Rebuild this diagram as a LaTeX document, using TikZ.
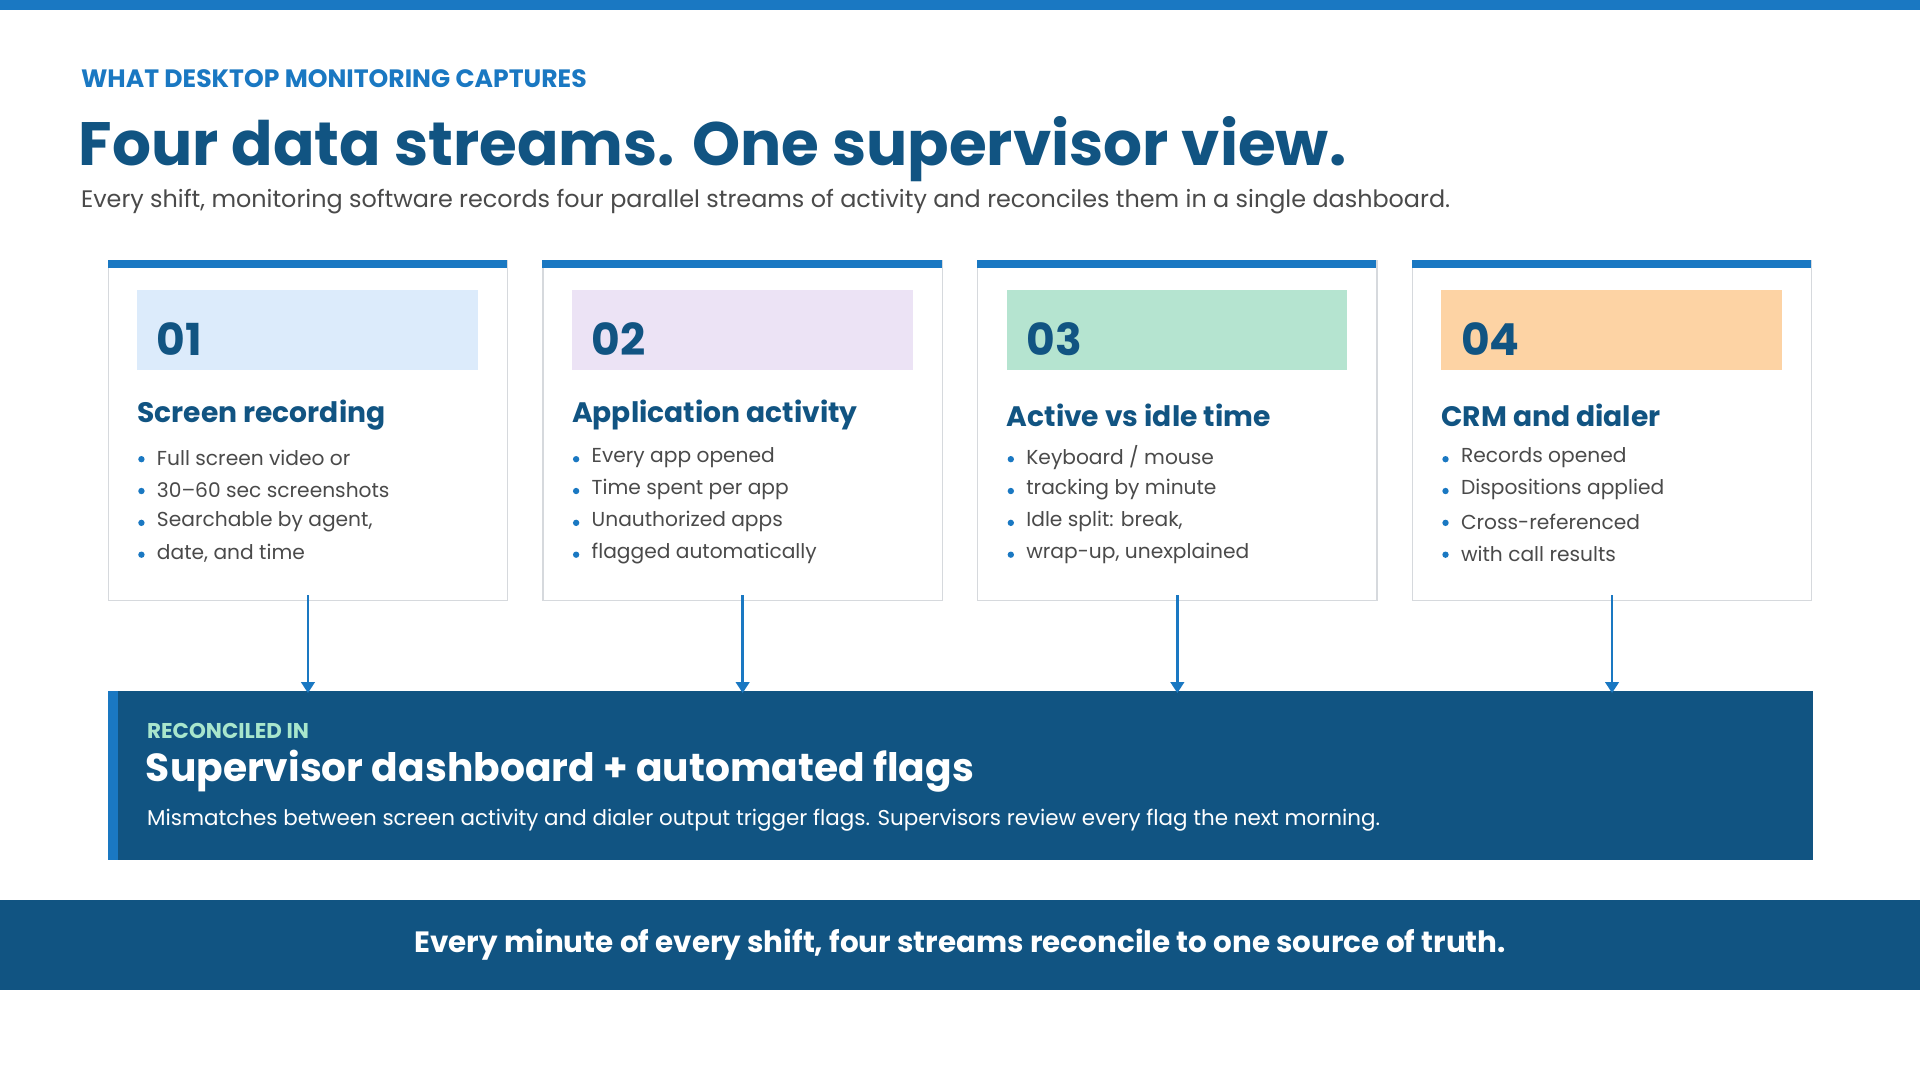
\documentclass[tikz,border=0pt]{standalone}
\usepackage{fontspec}
\setmainfont{Poppins}
\usetikzlibrary{positioning,arrows.meta}
\definecolor{topblue}{HTML}{1A78C2}
\definecolor{navy}{HTML}{115482}
\definecolor{bodygray}{HTML}{4A4A4A}
\definecolor{cardline}{HTML}{D6D9DD}
\definecolor{tintA}{HTML}{DCEBFB}
\definecolor{tintB}{HTML}{ECE3F5}
\definecolor{tintC}{HTML}{B5E4D0}
\definecolor{tintD}{HTML}{FDD3A4}
\definecolor{mint}{HTML}{A8E6CC}
\tikzset{
  card/.style={draw=cardline, line width=1pt, fill=white, minimum width=326pt, minimum height=278pt, anchor=north west, inner sep=0pt},
  numbox/.style={minimum width=278pt, minimum height=65pt, anchor=north west, inner sep=0pt},
  numtext/.style={anchor=west, font=\fontsize{36}{36}\selectfont\bfseries, text=navy},
  cardhead/.style={anchor=west, font=\fontsize{23}{23}\selectfont\bfseries, text=navy},
  item/.style={anchor=west, font=\fontsize{16.5}{16.5}\selectfont, text=bodygray},
  flow/.style={-{Triangle[length=9pt,width=11pt]}, draw=topblue, line width=2.2pt}
}
\begin{document}
\begin{tikzpicture}[x=1pt,y=-1pt]
  \useasboundingbox (0,0) rectangle (1568,882);
  \fill[white] (0,0) rectangle (1568,882);

  % Header
  \fill[topblue] (0,0) rectangle (1568,8);
  \node[anchor=west, font=\fontsize{20.5}{20.5}\selectfont\bfseries, text=topblue, inner sep=0pt] (kicker) at (66,64) {WHAT DESKTOP MONITORING CAPTURES};
  \node[anchor=base west, font=\fontsize{50}{50}\selectfont\bfseries, text=navy, inner sep=0pt] (title) at (64,135) {Four data streams. One supervisor view.};
  \node[anchor=west, font=\fontsize{19.5}{19.5}\selectfont, text=bodygray, inner sep=0pt] (lead) at (66,165) {Every shift, monitoring software records four parallel streams of activity and reconciles them in a single dashboard.};

  % Dashboard
  \node[fill=navy, minimum width=1392pt, minimum height=138pt, anchor=north west, inner sep=0pt] (dash) at (88,564) {};
  \fill[topblue] (dash.north west) rectangle ([xshift=8pt]dash.south west);
  \node[anchor=west, font=\fontsize{17.5}{17.5}\selectfont\bfseries, text=mint, inner sep=0pt] (dashtag) at (120,597) {RECONCILED IN};
  \node[anchor=west, font=\fontsize{32}{32}\selectfont\bfseries, text=white, inner sep=0pt] (dashhead) at (119,630) {Supervisor dashboard + automated flags};
  \node[anchor=west, font=\fontsize{17.5}{17.5}\selectfont, text=white, inner sep=0pt] (dashtext) at (120,670) {Mismatches between screen activity and dialer output trigger flags. Supervisors review every flag the next morning.};

  % Cards
  \foreach \i/\tint/\head/\la/\lb/\lc/\ld [count=\n from 0] in {
      01/tintA/Screen recording/Full screen video or/30--60 sec screenshots/{Searchable by agent,}/{date, and time},
      02/tintB/Application activity/Every app opened/Time spent per app/Unauthorized apps/flagged automatically,
      03/tintC/Active vs idle time/{Keyboard / mouse}/tracking by minute/{Idle split: break,}/{wrap-up, unexplained},
      04/tintD/CRM and dialer/Records opened/Dispositions applied/Cross-referenced/with call results}{
    \pgfmathsetmacro{\cx}{88+355*\n}
    \node[card] (card\i) at (\cx,212) {};
    \fill[topblue] (\cx,212) rectangle (\cx+326,219);
    \node[numbox, fill=\tint] (num\i) at (\cx+24,237) {};
    \node[numtext, inner sep=0pt] at (\cx+40,277) {\i};
    \node[cardhead, inner sep=0pt] at (\cx+24,339) {\head};
    \foreach \t [count=\k from 0] in {\la,\lb,\lc,\ld}{
      \fill[topblue] (\cx+27.5,375+26*\k) circle (2.6pt);
      \node[item, inner sep=0pt] at (\cx+40,374+26*\k) {\t};
    }
    \draw[flow] ([yshift=5pt]card\i.south) -- ([yshift=-2pt]card\i.south |- dash.north);
  }

  % Footer
  \node[fill=navy, minimum width=1568pt, minimum height=73pt, anchor=north west, inner sep=0pt] (band) at (0,735) {};
  \node[font=\fontsize{24}{24}\selectfont\bfseries, text=white, inner sep=0pt] (closing) at (band.center) {Every minute of every shift, four streams reconcile to one source of truth.};
\end{tikzpicture}
\end{document}
